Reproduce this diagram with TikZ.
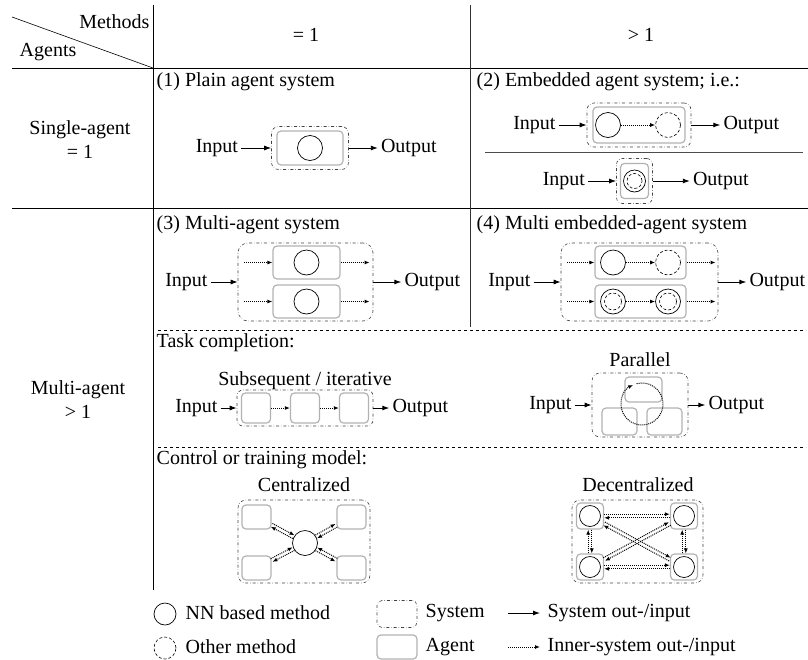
\documentclass[tikz,border=0pt]{standalone}
\usepackage{fontspec}
\setmainfont{Liberation Serif}
\usetikzlibrary{positioning,arrows.meta}
\tikzset{>={Latex[length=7pt,width=5pt]}}
\tikzset{
  sysbox/.style={draw=black!75, dash dot, line width=0.6pt, rounded corners=7pt, inner sep=0pt},
  agbox/.style={draw=gray!60, line width=1.2pt, rounded corners=4pt, inner sep=0pt},
  nncirc/.style={draw, circle, line width=0.7pt, minimum size=25pt, inner sep=0pt},
  othcirc/.style={draw, circle, densely dashed, line width=0.6pt, minimum size=25pt, inner sep=0pt},
  lbl/.style={inner sep=1.5pt},
  iolbl/.style={inner sep=3pt},
  sysarrow/.style={->, line width=0.9pt},
  innerarrow/.style={-{Latex[length=5pt,width=4pt]}, densely dotted, line width=1pt},
  shifted/.style={transform canvas={shift={#1}}}
}

\begin{document}
\begin{tikzpicture}[x=1pt, y=-1pt, font=\fontsize{20}{24}\selectfont]
  \useasboundingbox (0,0) rectangle (808,659);
  % table lines
  \draw[line width=0.8pt] (12,68) -- (808,68);
  \draw[line width=0.8pt] (12,208) -- (808,208);
  \draw[line width=0.8pt] (153,5) -- (153,590);
  \draw[line width=0.8pt, black!80] (470,5) -- (470,327);
  \draw[line width=0.6pt] (12,17) -- (153,68);
  \draw[dashed, line width=0.6pt] (158,330) -- (806,330);
  \draw[dashed, line width=0.6pt] (158,447) -- (806,447);
  % header
  \node[lbl, anchor=east] (hm) at (151,22) {Methods};
  \node[lbl, anchor=west] (ha) at (18,52) {Agents};
  \node[lbl] (h1) at (306,35) {= 1};
  \node[lbl] (h2) at (641,35) {> 1};
  \node[lbl, align=center] (r1) at (80,140) {Single-agent\\= 1};
  \node[lbl, align=center] (r2) at (78,400) {Multi-agent\\> 1};

  % (1) plain agent system
  \node[lbl, anchor=west] (t1) at (155,82) {(1) Plain agent system};
  \node[sysbox, minimum width=77pt, minimum height=43pt] (sys1) at (310,148) {};
  \node[agbox, minimum width=66pt, minimum height=34pt] (ag1) at (sys1) {};
  \node[nncirc] (m1) at (sys1) {};
  \node[iolbl, left=30pt of sys1] (in1) {Input};
  \node[iolbl, right=29pt of sys1] (out1) {Output};
  \draw[sysarrow] (in1) -- (sys1);
  \draw[sysarrow] (sys1) -- (out1);

  % (2) embedded agent system
  \node[lbl, anchor=west] (t2) at (475,82) {(2) Embedded agent system; i.e.:};
  \node[sysbox, minimum width=104pt, minimum height=44pt] (sys2a) at (639,125) {};
  \node[agbox, minimum width=92pt, minimum height=36pt] (ag2a) at (sys2a) {};
  \node[nncirc] (m2a) at (608,125) {};
  \node[othcirc] (o2a) at (668,125) {};
  \draw[innerarrow] (m2a) -- (o2a);
  \node[iolbl, left=28pt of sys2a] (in2a) {Input};
  \node[iolbl, right=29pt of sys2a] (out2a) {Output};
  \draw[sysarrow] (in2a) -- (sys2a);
  \draw[sysarrow] (sys2a) -- (out2a);
  \draw[line width=0.6pt, black!70] (485,152) -- (803,152);
  \node[sysbox, minimum width=36pt, minimum height=45pt, rounded corners=6pt] (sys2b) at (634.5,181) {};
  \node[agbox, minimum width=28pt, minimum height=35pt] (ag2b) at (sys2b) {};
  \node[nncirc, minimum size=22pt] (e2b) at (sys2b) {};
  \node[othcirc, minimum size=15pt] (e2bi) at (sys2b) {};
  \node[iolbl, left=28pt of sys2b] (in2b) {Input};
  \node[iolbl, right=37pt of sys2b] (out2b) {Output};
  \draw[sysarrow] (in2b) -- (sys2b);
  \draw[sysarrow] (sys2b) -- (out2b);

  % (3) multi-agent system
  \node[lbl, anchor=west] (t3) at (155,225) {(3) Multi-agent system};
  \node[sysbox, minimum width=135pt, minimum height=78pt, rounded corners=10pt] (sys3) at (305.5,282) {};
  \node[agbox, minimum width=67pt, minimum height=33pt] (ag3a) at (306.5,262.5) {};
  \node[agbox, minimum width=67pt, minimum height=33pt] (ag3b) at (306.5,301.5) {};
  \node[nncirc] (m3a) at (ag3a) {};
  \node[nncirc] (m3b) at (ag3b) {};
  \draw[innerarrow] ([xshift=-28pt]ag3a.west) -- (ag3a);
  \draw[innerarrow] ([xshift=-28pt]ag3b.west) -- (ag3b);
  \draw[innerarrow] (ag3a) -- ([xshift=29pt]ag3a.east);
  \draw[innerarrow] (ag3b) -- ([xshift=29pt]ag3b.east);
  \node[iolbl, left=27pt of sys3] (in3) {Input};
  \node[iolbl, right=28pt of sys3] (out3) {Output};
  \draw[sysarrow] (in3) -- (sys3);
  \draw[sysarrow] (sys3) -- (out3);

  % (4) multi embedded-agent system
  \node[lbl, anchor=west] (t4) at (475,225) {(4) Multi embedded-agent system};
  \node[sysbox, minimum width=157pt, minimum height=78pt, rounded corners=10pt] (sys4) at (639.5,282) {};
  \node[agbox, minimum width=91pt, minimum height=33pt] (ag4a) at (640.5,262.5) {};
  \node[agbox, minimum width=91pt, minimum height=33pt] (ag4b) at (640.5,301.5) {};
  \node[nncirc] (m4a) at (613,262.5) {};
  \node[othcirc] (o4a) at (668,262.5) {};
  \node[nncirc] (e4b) at (613,301.5) {};
  \node[othcirc, minimum size=17pt] (e4bi) at (e4b) {};
  \node[nncirc] (e4c) at (668,301.5) {};
  \node[othcirc, minimum size=17pt] (e4ci) at (e4c) {};
  \draw[innerarrow] (m4a) -- (o4a);
  \draw[innerarrow] (e4b) -- (e4c);
  \draw[innerarrow] ([xshift=-27pt]ag4a.west) -- (ag4a);
  \draw[innerarrow] ([xshift=-27pt]ag4b.west) -- (ag4b);
  \draw[innerarrow] (ag4a) -- ([xshift=29pt]ag4a.east);
  \draw[innerarrow] (ag4b) -- ([xshift=29pt]ag4b.east);
  \node[iolbl, left=27pt of sys4] (in4) {Input};
  \node[iolbl, right=28pt of sys4] (out4) {Output};
  \draw[sysarrow] (in4) -- (sys4);
  \draw[sysarrow] (sys4) -- (out4);

  % task completion
  \node[lbl, anchor=west] (t5) at (155,343) {Task completion:};
  \node[lbl] (t5a) at (305,381) {Subsequent / iterative};
  \node[sysbox, minimum width=136pt, minimum height=36pt, rounded corners=6pt] (sys5) at (305,408) {};
  \node[agbox, minimum width=29pt, minimum height=30pt] (a5a) at (256,408) {};
  \node[agbox, minimum width=29pt, minimum height=30pt] (a5b) at (305,408) {};
  \node[agbox, minimum width=29pt, minimum height=30pt] (a5c) at (354,408) {};
  \draw[innerarrow] (a5a) -- (a5b);
  \draw[innerarrow] (a5b) -- (a5c);
  \node[iolbl, left=16pt of sys5] (in5) {Input};
  \node[iolbl, right=16pt of sys5] (out5) {Output};
  \draw[sysarrow] (in5) -- (sys5);
  \draw[sysarrow] (sys5) -- (out5);

  \node[lbl] (t6) at (640,360) {Parallel};
  \node[sysbox, minimum width=96pt, minimum height=64pt, rounded corners=8pt] (sys6) at (640,405) {};
  \node[agbox, minimum width=37pt, minimum height=25pt] (a6a) at (643.5,389.5) {};
  \node[agbox, minimum width=35pt, minimum height=27pt] (a6b) at (619.5,421.5) {};
  \node[agbox, minimum width=35pt, minimum height=27pt] (a6c) at (664.5,421.5) {};
  \coordinate (c6) at (642,404);
  \draw[innerarrow] (c6) ++(105:21pt) arc[start angle=105, end angle=-245, radius=21pt];
  \node[iolbl, left=17pt of sys6] (in6) {Input};
  \node[iolbl, right=17pt of sys6] (out6) {Output};
  \draw[sysarrow] (in6) -- (sys6);
  \draw[sysarrow] (sys6) -- (out6);

  % control or training model
  \node[lbl, anchor=west] (t7) at (155,460) {Control or training model:};
  \node[lbl] (t7a) at (304,485) {Centralized};
  \node[sysbox, minimum width=132pt, minimum height=83pt, rounded corners=8pt] (sys7) at (304,541.5) {};
  \node[agbox, minimum width=29pt, minimum height=24pt] (a7a) at (256.5,517) {};
  \node[agbox, minimum width=29pt, minimum height=24pt] (a7b) at (351.5,517) {};
  \node[agbox, minimum width=29pt, minimum height=24pt] (a7c) at (256.5,568) {};
  \node[agbox, minimum width=29pt, minimum height=24pt] (a7d) at (351.5,568) {};
  \node[nncirc] (c7) at (305,543) {};
  \draw[innerarrow, shifted={(0.85pt,1.6pt)}] (a7a) -- (c7);
  \draw[innerarrow, shifted={(-0.85pt,-1.6pt)}] (c7) -- (a7a);
  \draw[innerarrow, shifted={(0.85pt,-1.6pt)}] (a7b) -- (c7);
  \draw[innerarrow, shifted={(-0.85pt,1.6pt)}] (c7) -- (a7b);
  \draw[innerarrow, shifted={(-0.85pt,1.6pt)}] (a7c) -- (c7);
  \draw[innerarrow, shifted={(0.85pt,-1.6pt)}] (c7) -- (a7c);
  \draw[innerarrow, shifted={(0.85pt,1.6pt)}] (a7d) -- (c7);
  \draw[innerarrow, shifted={(-0.85pt,-1.6pt)}] (c7) -- (a7d);

  \node[lbl] (t8) at (638,485) {Decentralized};
  \node[sysbox, minimum width=131pt, minimum height=83pt, rounded corners=8pt] (sys8) at (637.5,541.5) {};
  \node[agbox, minimum width=27pt, minimum height=26pt] (a8a) at (590,516) {};
  \node[agbox, minimum width=27pt, minimum height=26pt] (a8b) at (684,516) {};
  \node[agbox, minimum width=27pt, minimum height=26pt] (a8c) at (590,567) {};
  \node[agbox, minimum width=27pt, minimum height=26pt] (a8d) at (684,567) {};
  \node[nncirc, minimum size=21pt] (m8a) at (a8a) {};
  \node[nncirc, minimum size=21pt] (m8b) at (a8b) {};
  \node[nncirc, minimum size=21pt] (m8c) at (a8c) {};
  \node[nncirc, minimum size=21pt] (m8d) at (a8d) {};
  \draw[innerarrow, shifted={(0pt,1.8pt)}] (a8a) -- (a8b);
  \draw[innerarrow, shifted={(0pt,-1.8pt)}] (a8b) -- (a8a);
  \draw[innerarrow, shifted={(0pt,1.8pt)}] (a8c) -- (a8d);
  \draw[innerarrow, shifted={(0pt,-1.8pt)}] (a8d) -- (a8c);
  \draw[innerarrow, shifted={(1.8pt,0pt)}] (a8a) -- (a8c);
  \draw[innerarrow, shifted={(-1.8pt,0pt)}] (a8c) -- (a8a);
  \draw[innerarrow, shifted={(1.8pt,0pt)}] (a8b) -- (a8d);
  \draw[innerarrow, shifted={(-1.8pt,0pt)}] (a8d) -- (a8b);
  \draw[innerarrow, shifted={(0.86pt,1.58pt)}] (a8a) -- (a8d);
  \draw[innerarrow, shifted={(-0.86pt,-1.58pt)}] (a8d) -- (a8a);
  \draw[innerarrow, shifted={(0.86pt,-1.58pt)}] (a8b) -- (a8c);
  \draw[innerarrow, shifted={(-0.86pt,1.58pt)}] (a8c) -- (a8b);

  % legend
  \node[nncirc, minimum size=22pt] (lg1) at (165,614) {};
  \node[lbl, anchor=west] (lg1t) at (184,613) {NN based method};
  \node[othcirc, minimum size=22pt] (lg2) at (165,648) {};
  \node[lbl, anchor=west] (lg2t) at (184,647) {Other method};
  \node[sysbox, minimum width=40pt, minimum height=27pt, rounded corners=5pt] (lg3) at (397,614) {};
  \node[lbl, anchor=west] (lg3t) at (424,613) {System};
  \node[agbox, minimum width=40pt, minimum height=24pt] (lg4) at (397,647) {};
  \node[lbl, anchor=west] (lg4t) at (424,647) {Agent};
  \node[lbl, anchor=west] (lg5t) at (546,613) {System out-/input};
  \node[lbl, anchor=west] (lg6t) at (546,647) {Inner-system out-/input};
  \draw[sysarrow] ([xshift=-38pt]lg5t.west) -- ([xshift=-6pt]lg5t.west);
  \draw[innerarrow] ([xshift=-38pt]lg6t.west) -- ([xshift=-6pt]lg6t.west);
\end{tikzpicture}
\end{document}
